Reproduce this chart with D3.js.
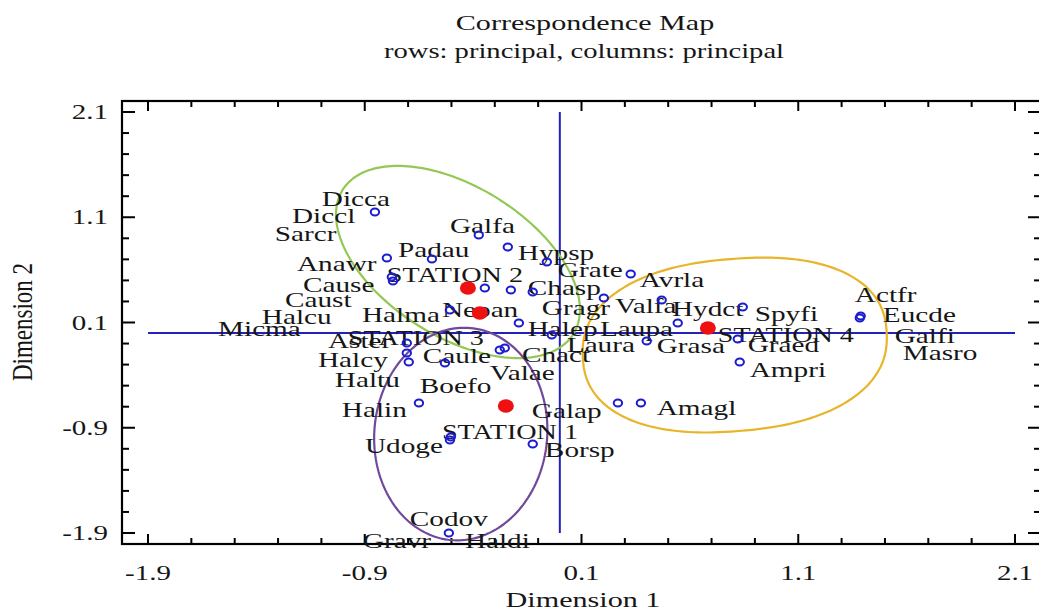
<!DOCTYPE html>
<meta charset="utf-8">
<script src="https://d3js.org/d3.v7.min.js"></script>
<style>
  body { margin: 0; background: #fff; }
  text { font-family: "Liberation Serif", "Times New Roman", serif; fill: #161616; }
</style>
<div id="chart"></div>
<script>

// ---- data ----
var tickValues = [-1.9, -0.9, 0.1, 1.1, 2.1];
var tickLabels = ["-1.9", "-0.9", "0.1", "1.1", "2.1"];

// rows (stations)
var stationNames  = ["STATION 1", "STATION 2", "STATION 3", "STATION 4"];
var stationX      = [-0.249, -0.424, -0.369, 0.683];
var stationY      = [-0.694, 0.428, 0.190, 0.048];
var stationLabelX = [-0.544, -0.798, -0.978, 0.729];
var stationLabelY = [-1.007, 0.485, -0.114, -0.086];

// columns (species) markers
var speciesX = [-0.853, -0.374, -0.240, -0.798, -0.590, -0.775, -0.770, -0.060, -0.346, -0.226,
                -0.125, 0.327, 0.203, 0.470, 0.844, -0.507, -0.189, 0.544, 1.384, 1.388,
                -0.037, 0.401, 0.821, -0.706, -0.706, -0.697, -0.530, -0.277, -0.254, 0.830,
                -0.650, 0.268, 0.374, -0.507, -0.503, -0.125, -0.512];
var speciesY = [1.150, 0.931, 0.817, 0.713, 0.703, 0.532, 0.494, 0.675, 0.428, 0.409,
                0.390, 0.561, 0.333, 0.314, 0.247, 0.219, 0.095, 0.095, 0.143, 0.162,
                -0.019, -0.076, -0.057, -0.095, -0.190, -0.276, -0.285, -0.162, -0.143, -0.276,
                -0.665, -0.665, -0.665, -1.017, -0.988, -1.055, -1.900];

// columns (species) labels
var speciesNames  = ["Dicca", "Diccl", "Sarcr", "Galfa", "Padau", "Hypsp", "Anawr", "Grate", "Cause", "Caust",
                     "Chasp", "Avrla", "Halcu", "Halma", "Neoan", "Gragr", "Valfa", "Hydct", "Spyfi", "Actfr",
                     "Eucde", "Micma", "Halep", "Laupa", "Galfi", "Laura", "Chact", "Grasa", "Graed", "Masro",
                     "Aster", "Halcy", "Caule", "Ampri", "Haltu", "Boefo", "Valae", "Halin", "Galap", "Amagl",
                     "Udoge", "Borsp", "Codov", "Gravr", "Haldi"];
var speciesLabelX = [-1.098, -1.236, -1.315, -0.507, -0.747, -0.194, -1.213, -0.009, -1.185, -1.268,
                     -0.148, 0.369, -1.375, -0.913, -0.544, -0.083, 0.254, 0.517, 0.899, 1.361,
                     1.490, -1.577, -0.148, 0.185, 1.545, 0.032, -0.175, 0.447, 0.867, 1.582,
                     -1.070, -1.116, -0.632, 0.876, -1.038, -0.646, -0.323, -1.006, -0.129, 0.447,
                     -0.899, -0.069, -0.692, -0.909, -0.438];
var speciesLabelY = [1.207, 1.045, 0.874, 0.950, 0.722, 0.694, 0.589, 0.532, 0.390, 0.247,
                     0.361, 0.437, 0.086, 0.105, 0.152, 0.171, 0.190, 0.162, 0.114, 0.295,
                     0.105, -0.029, -0.029, -0.029, -0.095, -0.181, -0.276, -0.190, -0.181, -0.257,
                     -0.143, -0.323, -0.285, -0.418, -0.513, -0.570, -0.447, -0.798, -0.808, -0.779,
                     -1.140, -1.178, -1.834, -2.043, -2.043];

// hand drawn groupings: centre and the two half-axes, in map units
var groupCenter = [[-0.470, 0.675], [-0.457, -0.960], [0.807, -0.114]];
var groupAxisA  = [[0.532, -0.685], [0.046, 1.007], [0.701, 0.114]];
var groupAxisB  = [[-0.183, -0.604], [0.397, -0.076], [0.018, -0.817]];

// ---- styles ----
var groupColors = ["#94c855", "#6f4a9c", "#e8b52a"];
var groupShape  = [2, 2, 2.3];   // superellipse exponent
var STRETCH = 1.33;             // the reference text is drawn wide
var FONT = 22;

var W = 1039, H = 615;
var frame = {left: 122, top: 101, right: 1041, bottom: 544};

var svg = d3.select("#chart").append("svg")
    .attr("width", W)
    .attr("height", H);

var x = d3.scaleLinear().domain([-1.9, 2.1]).range([148, 1015]);
var y = d3.scaleLinear().domain([-1.9, 2.1]).range([533, 112]);

function wideText(g, px, py, str, size, anchor, k) {
  return g.append("text")
      .attr("transform", "translate(" + px + "," + py + ") scale(" + (k || STRETCH) + ",1)")
      .attr("font-size", size)
      .attr("text-anchor", anchor || "start")
      .text(str);
}

// title
wideText(svg, 585, 30, "Correspondence Map", FONT, "middle", 1.37);
wideText(svg, 584, 58, "rows: principal, columns: principal", FONT, "middle", 1.3);

// frame
svg.append("rect")
    .attr("x", frame.left).attr("y", frame.top)
    .attr("width", frame.right - frame.left)
    .attr("height", frame.bottom - frame.top)
    .attr("fill", "none")
    .attr("stroke", "#000")
    .attr("stroke-width", 2.2);

// ticks on all four sides
var minor = d3.range(0, 21).map(function(i) { return +(-1.9 + i * 0.2).toFixed(1); });
var isMajor = function(v) { return tickValues.indexOf(v) >= 0; };
var ticks = svg.append("g").attr("stroke", "#000").attr("stroke-width", 2);

minor.forEach(function(v) {
  var big = isMajor(v);
  var lx = big ? 13 : 7, ly = big ? 10 : 6;
  ticks.append("line").attr("x1", x(v)).attr("x2", x(v)).attr("y1", frame.bottom).attr("y2", frame.bottom - ly);
  ticks.append("line").attr("x1", x(v)).attr("x2", x(v)).attr("y1", frame.top).attr("y2", frame.top + ly);
  ticks.append("line").attr("y1", y(v)).attr("y2", y(v)).attr("x1", frame.left).attr("x2", frame.left + lx);
  ticks.append("line").attr("y1", y(v)).attr("y2", y(v)).attr("x1", frame.right).attr("x2", frame.right - lx);
});

// tick labels
tickValues.forEach(function(v, i) {
  wideText(svg, x(v), 580, tickLabels[i], FONT - 1, "middle", 1.38);
  wideText(svg, 108, y(v) + 7, tickLabels[i], FONT - 1, "end", 1.38);
});

// axis titles
wideText(svg, 583, 607, "Dimension 1", FONT, "middle", 1.37);
svg.append("text")
    .attr("transform", "translate(32,322) rotate(-90) scale(1,1.3)")
    .attr("font-size", 23)
    .attr("text-anchor", "middle")
    .text("Dimension 2");

// zero lines
svg.append("line")
    .attr("x1", x(-1.9)).attr("x2", x(2.1)).attr("y1", y(0)).attr("y2", y(0))
    .attr("stroke", "#2222bb").attr("stroke-width", 2);
svg.append("line")
    .attr("x1", x(0)).attr("x2", x(0)).attr("y1", y(-1.9)).attr("y2", y(2.1))
    .attr("stroke", "#2222bb").attr("stroke-width", 2);

// group outlines
var outline = d3.line().curve(d3.curveLinearClosed);
groupCenter.forEach(function(c, gi) {
  var a = groupAxisA[gi], b = groupAxisB[gi], p = 2 / groupShape[gi];
  var pts = d3.range(0, 200).map(function(k) {
    var t = k / 200 * 2 * Math.PI;
    var ct = Math.cos(t), st = Math.sin(t);
    var u = Math.sign(ct) * Math.pow(Math.abs(ct), p);
    var w = Math.sign(st) * Math.pow(Math.abs(st), p);
    return [x(c[0] + u * a[0] + w * b[0]), y(c[1] + u * a[1] + w * b[1])];
  });
  svg.append("path")
      .attr("d", outline(pts))
      .attr("fill", "none")
      .attr("stroke", groupColors[gi])
      .attr("stroke-width", 2.2);
});

// labels
var labels = svg.append("g");
speciesNames.forEach(function(n, i) {
  wideText(labels, x(speciesLabelX[i]), y(speciesLabelY[i]), n, FONT, "start");
});
stationNames.forEach(function(n, i) {
  wideText(labels, x(stationLabelX[i]), y(stationLabelY[i]), n, FONT, "start", 1.28);
});

// species markers
svg.append("g").selectAll("ellipse")
    .data(d3.range(speciesX.length))
    .enter().append("ellipse")
    .attr("cx", function(i) { return x(speciesX[i]); })
    .attr("cy", function(i) { return y(speciesY[i]); })
    .attr("rx", 4.2)
    .attr("ry", 3.5)
    .attr("fill", "none")
    .attr("stroke", "#1c1cd0")
    .attr("stroke-width", 2);

// station markers
svg.append("g").selectAll("ellipse")
    .data(d3.range(stationX.length))
    .enter().append("ellipse")
    .attr("cx", function(i) { return x(stationX[i]); })
    .attr("cy", function(i) { return y(stationY[i]); })
    .attr("rx", 8)
    .attr("ry", 6.7)
    .attr("fill", "#ee1111");

</script>
